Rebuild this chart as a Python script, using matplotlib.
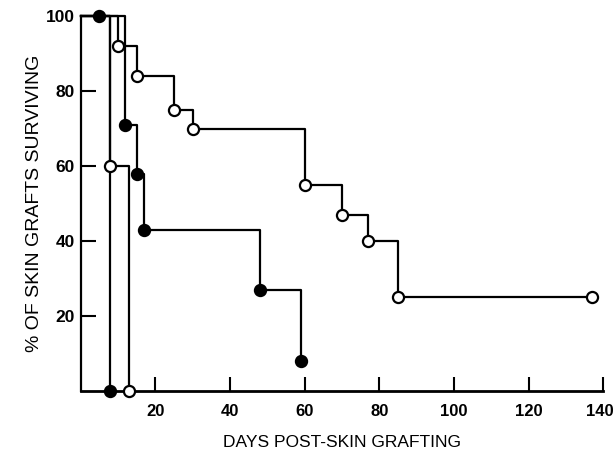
import matplotlib
matplotlib.use("Agg")
import matplotlib.pyplot as plt
import matplotlib.transforms as mtransforms

plt.rcParams['font.family'] = ['Liberation Sans', 'DejaVu Sans']

# graft survival curves (days, % surviving); first point is the start at 100%
days_a = [0, 5, 8]
surv_a = [100, 100, 0]
days_b = [0, 8, 13]
surv_b = [100, 60, 0]
days_c = [0, 12, 15, 17, 48, 59]
surv_c = [100, 71, 58, 43, 27, 8]
days_d = [0, 10, 15, 25, 30, 60, 70, 77, 85, 137]
surv_d = [100, 92, 84, 75, 70, 55, 47, 40, 25, 25]

x_ticks = [20, 40, 60, 80, 100, 120, 140]
y_ticks = [20, 40, 60, 80, 100]

fig = plt.figure(figsize=(6.16, 4.51), dpi=100)
ax = fig.add_axes([0.1308, 0.1330, 0.8489, 0.8315])

series = [(days_a, surv_a, 'black'),
          (days_b, surv_b, 'white'),
          (days_c, surv_c, 'black'),
          (days_d, surv_d, 'white')]

for d, s, face in series:
    ax.plot(d, s, drawstyle='steps-post', color='black', lw=1.6,
            clip_on=False, zorder=2)
for d, s, face in series:
    ax.plot(d[1:], s[1:], ls='none', marker='o', ms=8, mfc=face,
            mec='black', mew=1.6, clip_on=False, zorder=3)

ax.set_xlim(0, 140)
ax.set_ylim(0, 100)
ax.set_xticks(x_ticks)
ax.set_yticks(y_ticks)
ax.set_xticklabels([str(t) for t in x_ticks], fontweight='bold', fontsize=12)
ax.set_yticklabels([str(t) for t in y_ticks], fontweight='bold', fontsize=12.5)
ax.tick_params(axis='x', direction='in', length=10, width=1.5, pad=9)
ax.tick_params(axis='y', direction='in', length=11, width=1.5, pad=4)

# last x label sits at the figure edge, nudge it in a little
last = ax.get_xticklabels()[-1]
last.set_transform(last.get_transform() +
                   mtransforms.ScaledTranslation(-4 / 100, 0, fig.dpi_scale_trans))

ax.spines['top'].set_visible(False)
ax.spines['right'].set_visible(False)
ax.spines['bottom'].set_linewidth(2)
ax.spines['left'].set_linewidth(1.6)

ax.set_xlabel('DAYS POST-SKIN GRAFTING', fontsize=12.5, labelpad=12)
ax.set_ylabel('% OF SKIN GRAFTS SURVIVING', fontsize=14, labelpad=2)

fig.savefig('out.png', dpi=100)
